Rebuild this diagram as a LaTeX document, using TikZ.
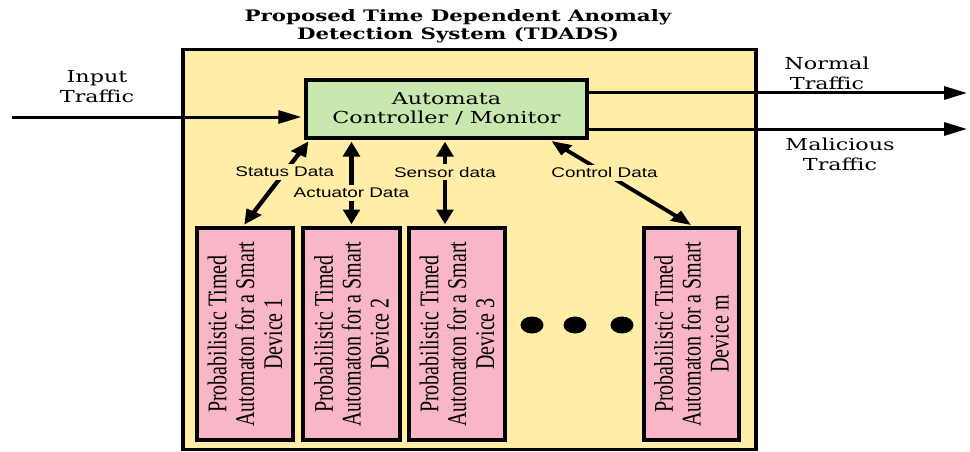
\documentclass[tikz,border=0pt]{standalone}
\usepackage{fontspec}
\setmainfont{DejaVu Serif}
\newfontfamily\lblfont{Liberation Sans}
\newfontfamily\devfont{Liberation Serif}
\usetikzlibrary{arrows.meta,calc,fit}

\definecolor{sysyellow}{RGB}{255,237,168}
\definecolor{ctrlgreen}{RGB}{200,232,176}
\definecolor{devpink}{RGB}{248,182,200}

\tikzset{
  sysbox/.style={draw=black, line width=3pt, fill=sysyellow, inner sep=0pt},
  ctrlbox/.style={draw=black, line width=3.5pt, fill=ctrlgreen, inner sep=0pt},
  devbox/.style={draw=black, line width=3.5pt, fill=devpink, inner sep=0pt},
  devtext/.style={rotate=90, align=center, font=\devfont\fontsize{20}{20.7}\selectfont, inner sep=0pt},
  serifnote/.style={align=center, font=\fontsize{16.5}{20}\selectfont, inner sep=0pt},
  titletext/.style={align=center, font=\bfseries\fontsize{15.8}{18}\selectfont, inner sep=0pt},
  datalabel/.style={fill=sysyellow, font=\lblfont\fontsize{14}{16}\selectfont, inner sep=3pt},
  flowarrow/.style={line width=3pt, -{Triangle[length=17pt,width=13pt]}},
  linkarrow/.style={line width=3.5pt, {Triangle[length=15pt,width=12pt]}-{Triangle[length=15pt,width=12pt]}, shorten <=1.75pt, shorten >=1.75pt},
  dotnode/.style={circle, fill=black, minimum size=17pt, inner sep=0pt},
}

\begin{document}
\begin{tikzpicture}[x=1pt,y=-1pt]
\useasboundingbox (0,0) rectangle (970,452);
\begin{scope}[x=0.740741pt, transform canvas={xscale=1.35}]
  % title
  \node[titletext] (title) at (458,26) {Proposed Time Dependent Anomaly\\Detection System (TDADS)};
  % system box
  \node[sysbox, fit={(183,49.5) (756,449.5)}] (sys) {};
  % controller
  \node[ctrlbox, fit={(306,80) (587,138)}] (ctrl) {};
  \node[serifnote, font=\fontsize{16.5}{19}\selectfont] (ctrltext) at (ctrl.center) {Automata\\Controller / Monitor};
  % devices
  \node[devbox, fit={(197,228) (293,440)}] (dev1) {};
  \node[devbox, fit={(303,228) (400,440)}] (dev2) {};
  \node[devbox, fit={(409,228) (505,440)}] (dev3) {};
  \node[devbox, fit={(644,228) (739,440)}] (devm) {};
  \node[devtext] (dev1text) at (dev1.center) {Probabilistic Timed\\Automaton for a Smart\\Device 1};
  \node[devtext] (dev2text) at (dev2.center) {Probabilistic Timed\\Automaton for a Smart\\Device 2};
  \node[devtext] (dev3text) at (dev3.center) {Probabilistic Timed\\Automaton for a Smart\\Device 3};
  \node[devtext] (devmtext) at (devm.center) {Probabilistic Timed\\Automaton for a Smart\\Device m};
  % dots
  \node[dotnode] (dot1) at (532,325) {};
  \node[dotnode] (dot2) at (575,325) {};
  \node[dotnode] (dot3) at (622,325) {};
  % traffic labels
  \node[serifnote] (intext) at (97,87) {Input\\Traffic};
  \node[serifnote] (normtext) at (827,73) {Normal\\Traffic};
  \node[serifnote] (maltext) at (840,154) {Malicious\\Traffic};
  % traffic arrows
  \coordinate (inStart) at (12,117);
  \coordinate (normEnd) at (967,93);
  \coordinate (malEnd) at (967,129);
  \draw[flowarrow, shorten >=1.75pt] (inStart) -- (inStart -| ctrl.west);
  \draw[flowarrow] (normEnd -| ctrl.east) -- (normEnd);
  \draw[flowarrow] (malEnd -| ctrl.east) -- (malEnd);
  % links
  \draw[linkarrow] ($(ctrl.south west)+(6,0)$) -- ($(dev1.north)+(-2,0)$)
    node[datalabel, pos=0.373] (statuslbl) {Status Data};
  \draw[linkarrow] (dev2.north |- ctrl.south) -- (dev2.north)
    node[datalabel, pos=0.615] (actlbl) {Actuator Data};
  \draw[linkarrow] ($(dev3.north |- ctrl.south)+(-12,0)$) -- ($(dev3.north)+(-12,0)$)
    node[datalabel, pos=0.373] (senslbl) {Sensor data};
  \draw[linkarrow] ($(ctrl.south east)+(-40,0)$) -- ($(devm.north)+(1.5,0)$)
    node[datalabel, pos=0.384] (ctrllbl) {Control Data};
\end{scope}
\end{tikzpicture}
\end{document}
